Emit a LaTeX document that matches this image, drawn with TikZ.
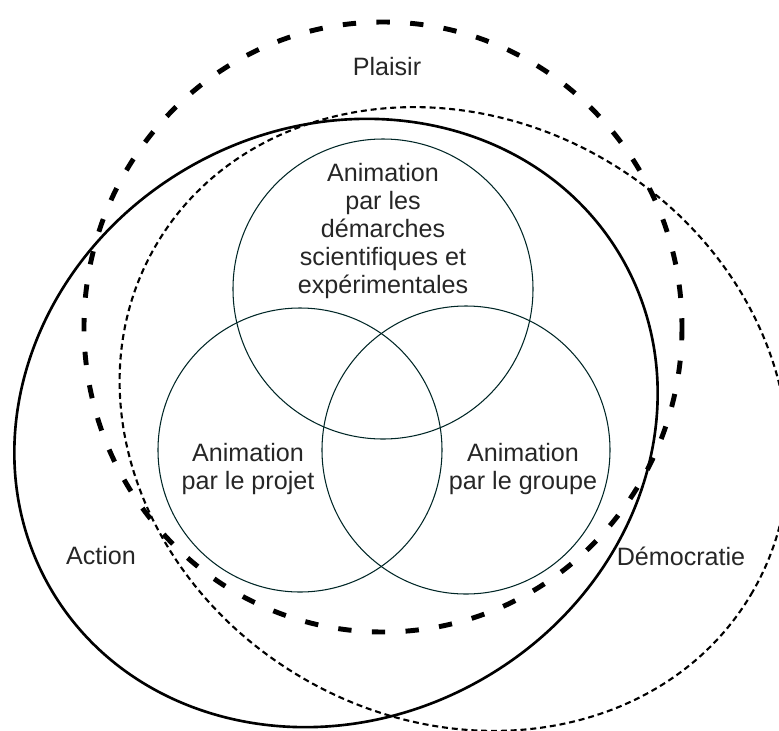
\documentclass[tikz,border=0pt]{standalone}
\usepackage{fontspec}
\setmainfont{Liberation Sans}
\usepackage{tikz}
\usetikzlibrary{positioning}
\tikzset{
  lbl/.style={font=\fontsize{14.3}{16}\selectfont, text=black!85, align=center, inner sep=0pt},
  plaisir/.style={line width=2.8pt, dash pattern=on 7.6pt off 11.6pt},
  action/.style={line width=1.5pt},
  democratie/.style={line width=1.2pt, dash pattern=on 3.4pt off 2.2pt},
  anim/.style={line width=0.6pt, draw=black!70!teal}
}

\begin{document}
\begin{tikzpicture}[x=0.02cm, y=-0.02cm]

  \useasboundingbox (0,0) rectangle (779,731);

  % centres des ensembles
  \coordinate (cP) at (383,327);
  \coordinate (cA) at (336,423);
  \coordinate (cD) at (454,419);
  \coordinate (cS) at (383,289);
  \coordinate (cPr) at (300,450);
  \coordinate (cG) at (466,450);

  % grands ensembles
  \draw [plaisir] (cP) ellipse [x radius=299, y radius=305];
  \draw [action, rotate around={30:(cA)}] (cA) ellipse [x radius=330, y radius=295];
  \draw [democratie, rotate around={-30:(cD)}] (cD) ellipse [x radius=345, y radius=300];

  % animations
  \draw [anim] (cS) circle [radius=150];
  \draw [anim] (cPr) circle [radius=142];
  \draw [anim] (cG) circle [radius=144];

  \node (Plaisir) [lbl] at (387,67) {Plaisir};
  \node (Action) [lbl] at (101,556) {Action};
  \node (Demo) [lbl] at (681,556) {Démocratie};

  \node (Sci) [lbl] at (383,231) {Animation\\par les\\démarches\\scientifiques et\\expérimentales};
  \node (Proj) [lbl] at (248,469) {Animation\\par le projet};
  \node (Grp) [lbl] at (523,469) {Animation\\par le groupe};

\end{tikzpicture}
\end{document}
